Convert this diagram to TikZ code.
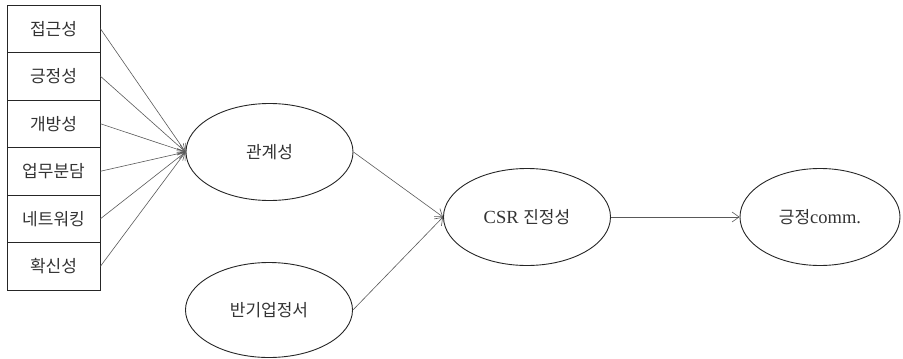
\documentclass[tikz,border=0pt]{standalone}
\usepackage{fontspec}
\setmainfont{Liberation Serif}
\newfontfamily\kr{Noto Sans CJK KR}[Scale=0.92]
\usetikzlibrary{shapes.geometric,arrows.meta}
\begin{document}
\begin{tikzpicture}[x=1pt,y=-1pt,
  itembox/.style={draw=black!85,line width=0.9pt,minimum width=93pt,minimum height=47.5pt,inner sep=0pt,font=\fontsize{18.5}{20}\selectfont\kr,text=black!80},
  factor/.style={draw=black!85,line width=0.9pt,ellipse,minimum width=167pt,minimum height=97pt,inner sep=0pt,font=\fontsize{18.5}{20}\selectfont,text=black!80},
  link/.style={draw=black!65,line width=0.6pt,-{Straight Barb[length=7pt,width=10pt,line width=0.6pt]}}]
\useasboundingbox (0,0) rectangle (903,359);
% indicator boxes, stacked
\node[itembox] (b1) at (53.5,28.75) {접근성};
\node[itembox] (b2) at (53.5,76.25) {긍정성};
\node[itembox] (b3) at (53.5,123.75) {개방성};
\node[itembox] (b4) at (53.5,171.25) {업무분담};
\node[itembox] (b5) at (53.5,218.75) {네트워킹};
\node[itembox] (b6) at (53.5,266.25) {확신성};
% latent factors
\node[factor] (rel) at (269.5,152) {{\kr 관계성}};
\node[factor,minimum height=95pt] (anti) at (269,310) {{\kr 반기업정서}};
\node[factor] (csr) at (527,217) {CSR {\kr 진정성}};
\node[factor,minimum width=160pt] (pos) at (820,217) {{\kr 긍정}comm.};
% paths
\foreach \b in {b1,b2,b3,b4,b5,b6}
  \draw[link] (\b.east) -- (rel.west);
\draw[link] (rel.east) -- (csr.west);
\draw[link] (anti.east) -- (csr.west);
\draw[link] (csr.east) -- (pos.west);
\end{tikzpicture}
\end{document}
